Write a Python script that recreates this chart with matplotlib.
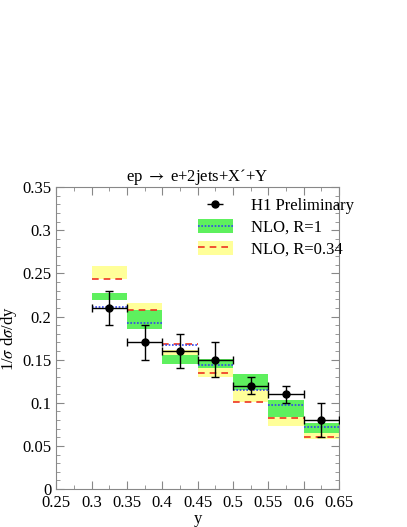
import numpy as np
import matplotlib.pyplot as plt
from matplotlib.patches import Patch
from matplotlib.lines import Line2D
from matplotlib.ticker import MultipleLocator

plt.rcParams['font.family'] = ['Liberation Serif', 'DejaVu Serif']
plt.rcParams['mathtext.fontset'] = 'stix'

# bins in y
bin_lo = np.array([0.30, 0.35, 0.40, 0.45, 0.50, 0.55, 0.60])
bin_hi = np.array([0.35, 0.40, 0.45, 0.50, 0.55, 0.60, 0.65])

# H1 preliminary data
h1_val = np.array([0.21, 0.17, 0.16, 0.15, 0.12, 0.11, 0.08])
h1_err = np.array([0.02, 0.02, 0.02, 0.02, 0.01, 0.01, 0.02])

# NLO R=1 (blue dotted, green band)
r1_val = np.array([0.211, 0.193, 0.167, 0.144, 0.115, 0.097, 0.072])
r1_lo = np.array([0.219, 0.185, 0.1445, 0.140, 0.115, 0.084, 0.0645])
r1_hi = np.array([0.227, 0.207, 0.155, 0.151, 0.133, 0.103, 0.076])

# NLO R=0.34 (red dashed, yellow band)
r034_val = np.array([0.244, 0.208, 0.168, 0.135, 0.101, 0.082, 0.060])
r034_lo = np.array([0.244, 0.207, 0.155, 0.130, 0.101, 0.073, 0.0576])
r034_hi = np.array([0.258, 0.2155, 0.161, 0.140, 0.115, 0.085, 0.0645])

fig = plt.figure(figsize=(4.07, 5.27), dpi=100)
ax = fig.add_axes([0.138, 0.072, 0.695, 0.573])

centers = (bin_lo + bin_hi) / 2
widths = bin_hi - bin_lo

yellow = '#ffff99'
green = '#5ef05e'

ax.bar(bin_lo, r034_hi - r034_lo, width=widths, bottom=r034_lo, align='edge',
       color=yellow, edgecolor='none', zorder=1)
ax.bar(bin_lo, r1_hi - r1_lo, width=widths, bottom=r1_lo, align='edge',
       color=green, edgecolor='none', zorder=2)
ax.hlines(r034_val, bin_lo, bin_hi, colors='#ee3322', linestyles=(0, (4, 3)),
          lw=1.2, zorder=3)
ax.hlines(r1_val, bin_lo, bin_hi, colors='#3344ee', linestyles=(0, (1, 1)),
          lw=1.2, zorder=3)

ax.errorbar(centers, h1_val, xerr=widths / 2, yerr=h1_err, fmt='o', color='black',
            ms=5, capsize=3, elinewidth=1, capthick=1, zorder=5)

ax.set_xlim(0.25, 0.65)
ax.set_ylim(0, 0.35)
ax.xaxis.set_minor_locator(MultipleLocator(0.025))
ax.yaxis.set_minor_locator(MultipleLocator(0.01))
ax.set_xticks(np.arange(0.25, 0.651, 0.05))
ax.set_xticklabels(['0.25', '0.3', '0.35', '0.4', '0.45', '0.5', '0.55', '0.6', '0.65'])
ax.set_yticks(np.arange(0, 0.351, 0.05))
ax.set_yticklabels(['0', '0.05', '0.1', '0.15', '0.2', '0.25', '0.3', '0.35'])
ax.tick_params(which='both', direction='in', top=True, right=True,
               labelsize=12, color='#888888')
ax.tick_params(which='major', length=6)
ax.tick_params(which='minor', length=3)
ax.tick_params(axis='x', pad=4)
for s in ax.spines.values():
    s.set_color('#888888')

ax.set_xlabel('y', fontsize=12, labelpad=0)
ax.set_ylabel(r'1/$\sigma$ d$\sigma$/dy', fontsize=12, labelpad=2)
ax.set_title('ep $\\rightarrow$ e+2jets+X\u00b4+Y', fontsize=12, pad=1)

h_data = ax.errorbar([], [], xerr=[], fmt='o', color='black', ms=5,
                     capsize=3, elinewidth=1)
h_r1 = (Patch(facecolor=green, edgecolor='none'),
        Line2D([], [], color='#3344ee', ls=(0, (1, 1)), lw=1.2))
h_r034 = (Patch(facecolor=yellow, edgecolor='none'),
          Line2D([], [], color='#ee3322', ls=(0, (4, 3)), lw=1.2))
ax.legend([h_data, h_r1, h_r034], ['H1 Preliminary', 'NLO, R=1', 'NLO, R=0.34'],
          loc='upper left', frameon=False, fontsize=12, handlelength=2.1,
          handleheight=0.9, handletextpad=1.1, labelspacing=0.3, borderpad=0,
          borderaxespad=0, bbox_to_anchor=(0.50, 0.965))

fig.savefig('out.png', dpi=100)
